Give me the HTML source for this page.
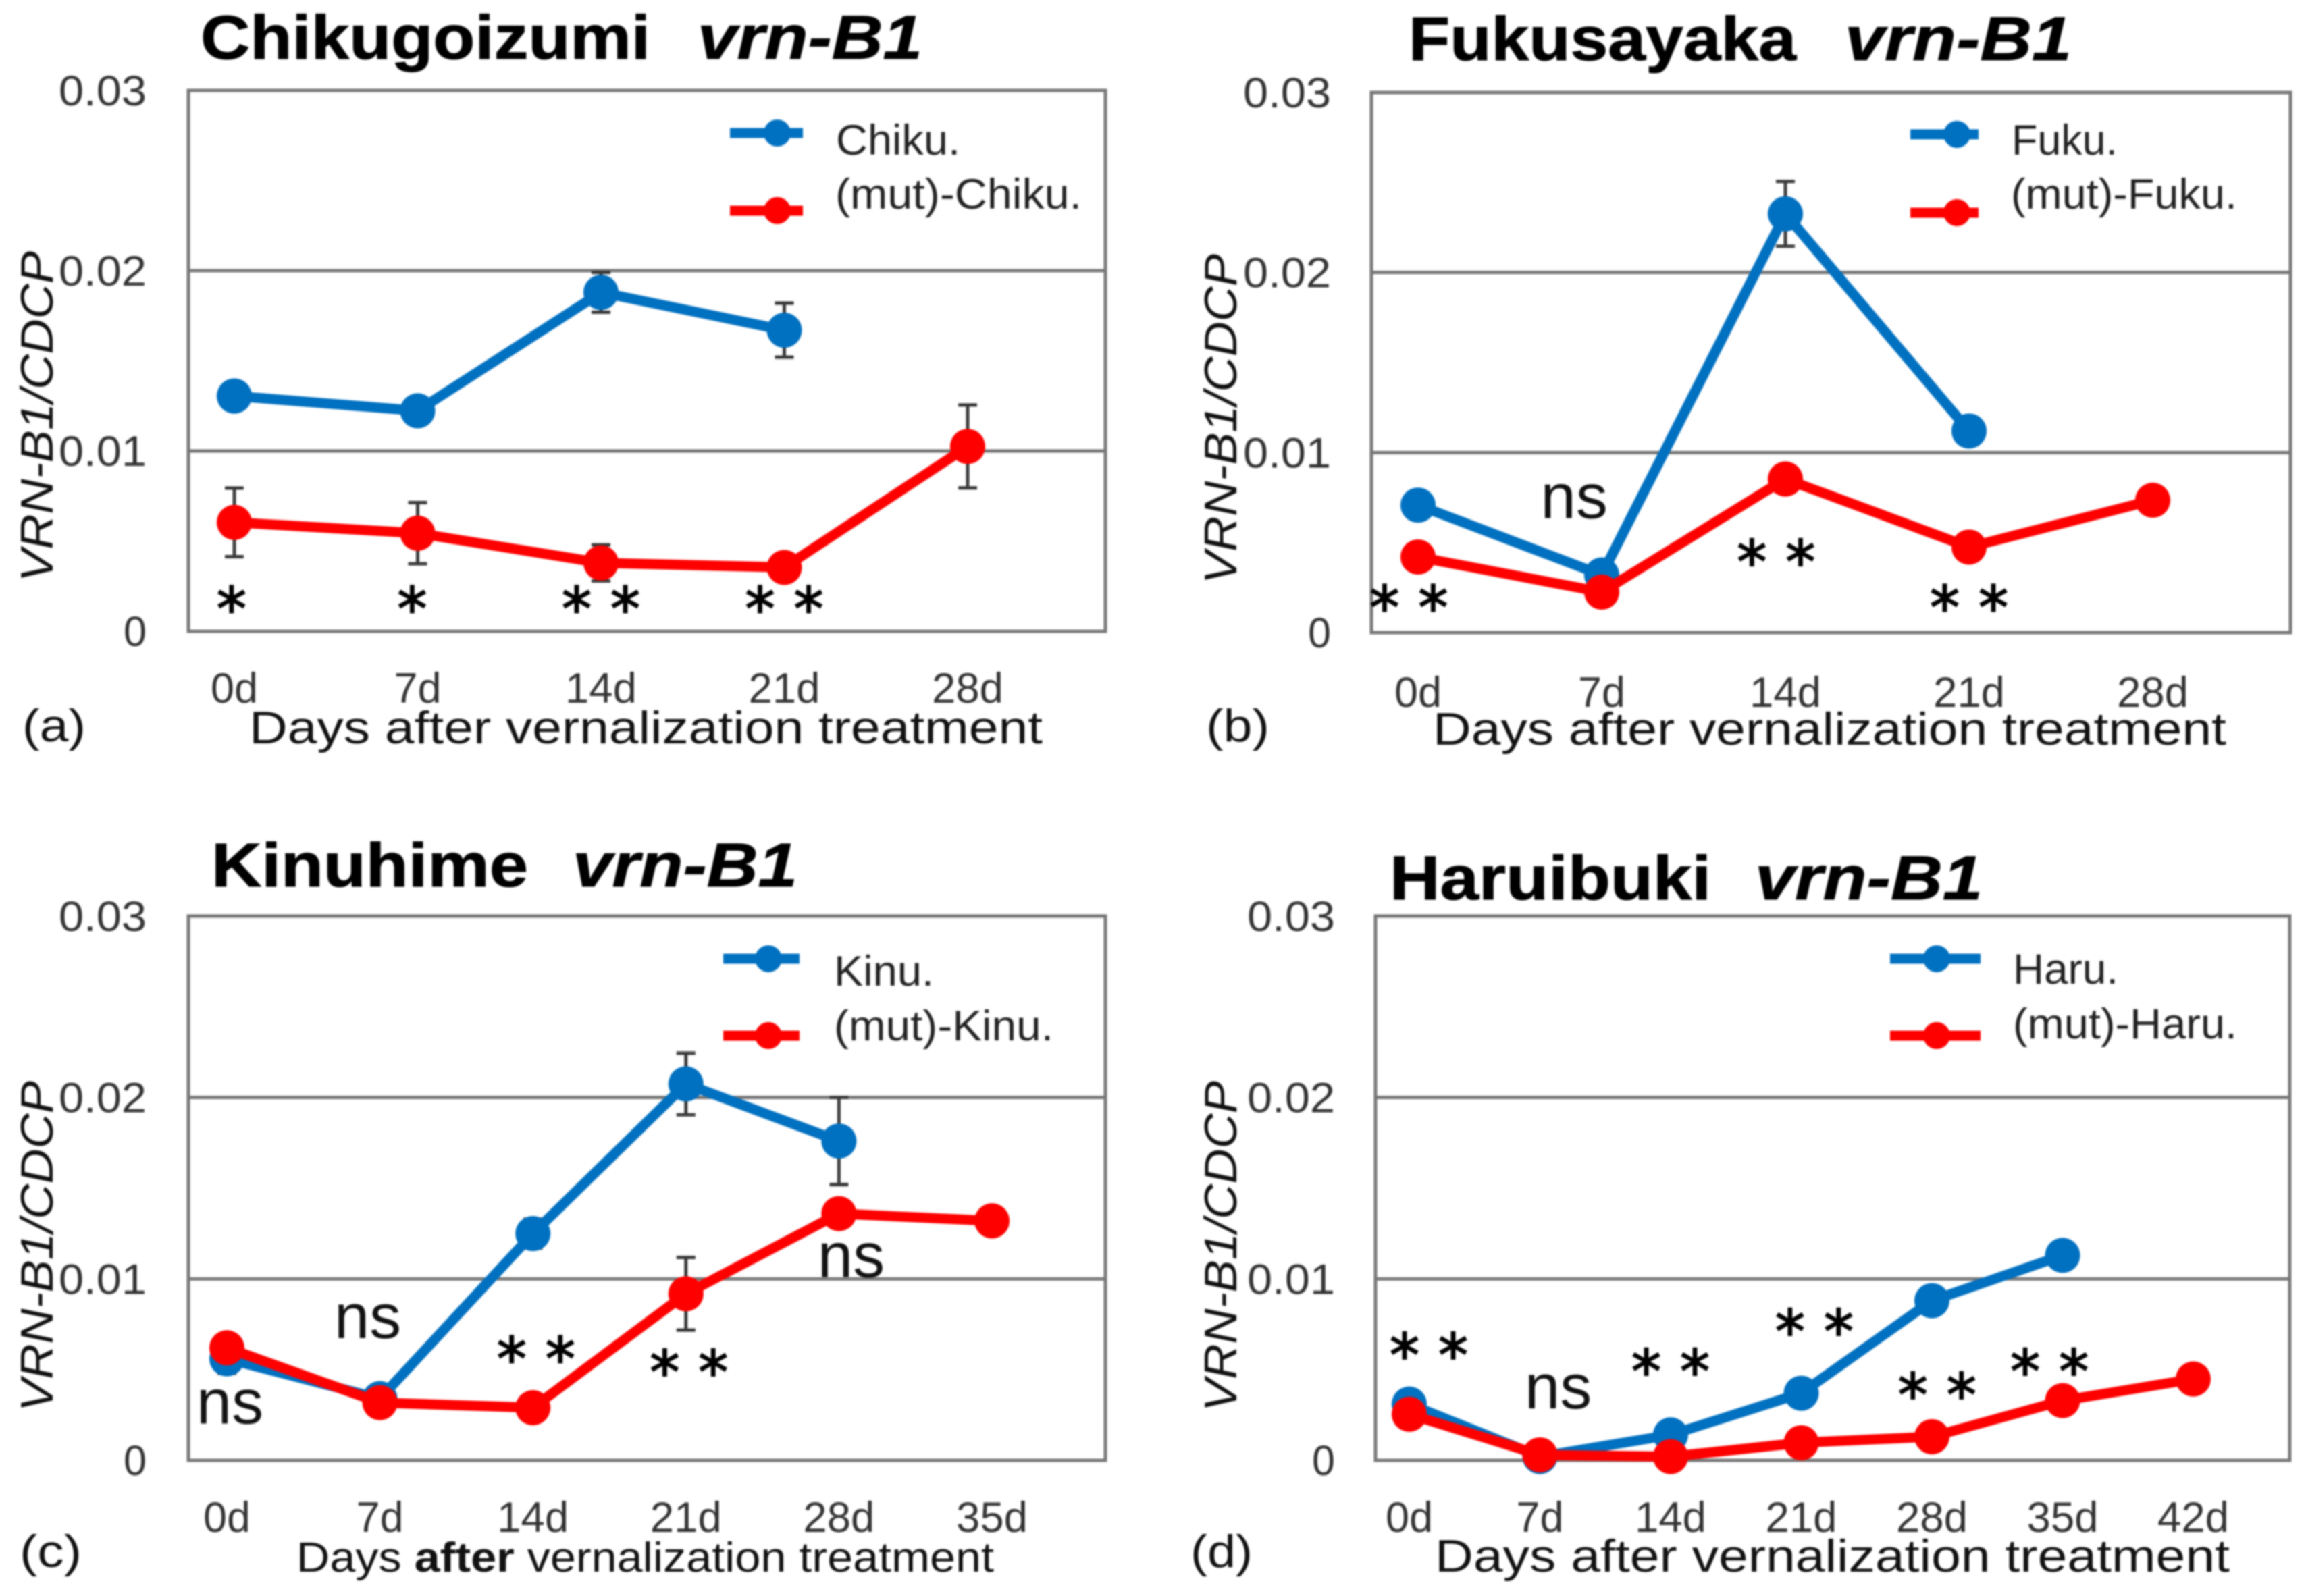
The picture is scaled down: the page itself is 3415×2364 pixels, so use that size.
<!DOCTYPE html>
<html lang="en">
<head>
<meta charset="utf-8">
<title>vrn-B1 expression after vernalization treatment</title>
<style>
  html, body { margin: 0; padding: 0; background: #fff; }
  #figure { display: block; width: 3415px; height: 2364px; filter: blur(1.4px); }
  text { font-family: "Liberation Sans", sans-serif; fill: #1a1a1a; }
  .title { font-size: 92px; font-weight: 700; fill: #000; stroke: #000; stroke-width: 1px; }
  .gene { font-size: 92px; font-weight: 700; font-style: italic; fill: #000; stroke: #000; stroke-width: 1px; }
  .xtitle { font-size: 68px; fill: #111; }
  .ytitle { font-size: 68px; font-style: italic; fill: #111; }
  .legend { font-size: 63px; fill: #222; }
  .panel-tag { font-size: 68px; fill: #111; }
  .tick { font-size: 63px; fill: #333; }
  .note-star { font-family: "DejaVu Sans", sans-serif; font-size: 88px; fill: #000; stroke: #000; stroke-width: 2px; }
  .note-ns { font-size: 94px; fill: #111; }
</style>
</head>
<body>
<svg id="figure" xmlns="http://www.w3.org/2000/svg" width="3415" height="2364" viewBox="0 0 3415 2364">
  <rect x="0" y="0" width="3415" height="2364" fill="#fff"/>

  <g id="panel-a">
    <text class="title" x="297" y="87" textLength="666" lengthAdjust="spacingAndGlyphs">Chikugoizumi</text>
    <text class="gene" x="1033" y="87" textLength="333" lengthAdjust="spacingAndGlyphs">vrn-B1</text>
    <text class="ytitle" transform="translate(78 862) rotate(-90)" textLength="490" lengthAdjust="spacingAndGlyphs">VRN-B1/CDCP</text>
    <text class="xtitle" x="369" y="1101" textLength="1175" lengthAdjust="spacingAndGlyphs">Days after vernalization treatment</text>
    <text class="panel-tag" x="33" y="1098" textLength="94" lengthAdjust="spacingAndGlyphs">(a)</text>
  </g>
  <g id="panel-b">
    <text class="title" x="2086" y="89" textLength="574" lengthAdjust="spacingAndGlyphs">Fukusayaka</text>
    <text class="gene" x="2732" y="89" textLength="336" lengthAdjust="spacingAndGlyphs">vrn-B1</text>
    <text class="ytitle" transform="translate(1831 865) rotate(-90)" textLength="489" lengthAdjust="spacingAndGlyphs">VRN-B1/CDCP</text>
    <text class="xtitle" x="2122" y="1103" textLength="1175" lengthAdjust="spacingAndGlyphs">Days after vernalization treatment</text>
    <text class="panel-tag" x="1786" y="1098" textLength="94" lengthAdjust="spacingAndGlyphs">(b)</text>
  </g>
  <g id="panel-c">
    <text class="title" x="313" y="1313" textLength="469" lengthAdjust="spacingAndGlyphs">Kinuhime</text>
    <text class="gene" x="848" y="1313" textLength="333" lengthAdjust="spacingAndGlyphs">vrn-B1</text>
    <text class="ytitle" transform="translate(78 2091) rotate(-90)" textLength="490" lengthAdjust="spacingAndGlyphs">VRN-B1/CDCP</text>
    <text class="xtitle" x="439" y="2328" textLength="1033" lengthAdjust="spacingAndGlyphs" style="font-size:62px">Days <tspan font-weight="700">after</tspan> vernalization treatment</text>
    <text class="panel-tag" x="29" y="2321" textLength="92" lengthAdjust="spacingAndGlyphs">(c)</text>
  </g>
  <g id="panel-d">
    <text class="title" x="2058" y="1332" textLength="476" lengthAdjust="spacingAndGlyphs">Haruibuki</text>
    <text class="gene" x="2599" y="1332" textLength="337" lengthAdjust="spacingAndGlyphs">vrn-B1</text>
    <text class="ytitle" transform="translate(1831 2091) rotate(-90)" textLength="490" lengthAdjust="spacingAndGlyphs">VRN-B1/CDCP</text>
    <text class="xtitle" x="2125" y="2328" textLength="1177" lengthAdjust="spacingAndGlyphs">Days after vernalization treatment</text>
    <text class="panel-tag" x="1763" y="2321" textLength="92" lengthAdjust="spacingAndGlyphs">(d)</text>
  </g>

  <g id="legends">
    <g>
      <line x1="1081" x2="1189" y1="197" y2="197" stroke="#0070C0" stroke-width="15"/>
      <circle cx="1151" cy="197" r="20" fill="#0070C0"/>
      <text class="legend" x="1238" y="229" textLength="184" lengthAdjust="spacingAndGlyphs">Chiku.</text>
      <line x1="1081" x2="1189" y1="312" y2="312" stroke="#FF0000" stroke-width="15"/>
      <circle cx="1151" cy="312" r="20" fill="#FF0000"/>
      <text class="legend" x="1237" y="309" textLength="365" lengthAdjust="spacingAndGlyphs">(mut)-Chiku.</text>
    </g>
    <g>
      <line x1="2829" x2="2930" y1="199" y2="199" stroke="#0070C0" stroke-width="15"/>
      <circle cx="2898" cy="199" r="20" fill="#0070C0"/>
      <text class="legend" x="2979" y="229" textLength="157" lengthAdjust="spacingAndGlyphs">Fuku.</text>
      <line x1="2829" x2="2930" y1="315" y2="315" stroke="#FF0000" stroke-width="15"/>
      <circle cx="2898" cy="315" r="20" fill="#FF0000"/>
      <text class="legend" x="2978" y="309" textLength="335" lengthAdjust="spacingAndGlyphs">(mut)-Fuku.</text>
    </g>
    <g>
      <line x1="1071" x2="1184" y1="1420" y2="1420" stroke="#0070C0" stroke-width="15"/>
      <circle cx="1138" cy="1420" r="20" fill="#0070C0"/>
      <text class="legend" x="1235" y="1460" textLength="148" lengthAdjust="spacingAndGlyphs">Kinu.</text>
      <line x1="1071" x2="1184" y1="1534" y2="1534" stroke="#FF0000" stroke-width="15"/>
      <circle cx="1138" cy="1534" r="20" fill="#FF0000"/>
      <text class="legend" x="1235" y="1541" textLength="325" lengthAdjust="spacingAndGlyphs">(mut)-Kinu.</text>
    </g>
    <g>
      <line x1="2799" x2="2933" y1="1420" y2="1420" stroke="#0070C0" stroke-width="15"/>
      <circle cx="2868" cy="1420" r="20" fill="#0070C0"/>
      <text class="legend" x="2981" y="1457" textLength="156" lengthAdjust="spacingAndGlyphs">Haru.</text>
      <line x1="2799" x2="2933" y1="1534" y2="1534" stroke="#FF0000" stroke-width="15"/>
      <circle cx="2868" cy="1534" r="20" fill="#FF0000"/>
      <text class="legend" x="2981" y="1538" textLength="332" lengthAdjust="spacingAndGlyphs">(mut)-Haru.</text>
    </g>
  </g>
</svg>

<script>
// Shared y axis
const yTickValues = [0, 0.01, 0.02, 0.03];
const yTickLabels = ['0', '0.01', '0.02', '0.03'];
const yAxisMax = 0.03;

// Panel (a) Chikugoizumi
const chikuDays = ['0d', '7d', '14d', '21d', '28d'];
const chikuWild = [0.01305, 0.01223, 0.0188, 0.0167];
const chikuMut = [0.00604, 0.00544, 0.00379, 0.00354, 0.01025];
const chikuWildErr = [0, 0, 0.0011, 0.0015];
const chikuMutErr = [0.0019, 0.0017, 0.001, 0, 0.0023];
const chikuNotes = ['*', '*', '* *', '* *'];
const chikuNoteDays = [-0.015, 0.97, 2, 3];
const chikuNoteLevels = [0.00173, 0.00173, 0.00173, 0.00173];

// Panel (b) Fukusayaka
const fukuDays = ['0d', '7d', '14d', '21d', '28d'];
const fukuWild = [0.00708, 0.0032, 0.02326, 0.0112];
const fukuMut = [0.0042, 0.00225, 0.00853, 0.00475, 0.00735];
const fukuWildErr = [0, 0, 0.0018, 0];
const fukuMutErr = [0, 0, 0, 0, 0];
const fukuNotes = ['* *', 'ns', '* *', '* *'];
const fukuNoteDays = [-0.05, 0.85, 1.95, 3];
const fukuNoteLevels = [0.00187, 0.0073, 0.0044, 0.00187];

// Panel (c) Kinuhime
const kinuDays = ['0d', '7d', '14d', '21d', '28d', '35d'];
const kinuWild = [0.0056, 0.0034, 0.0125, 0.02075, 0.0176];
const kinuMut = [0.0062, 0.00318, 0.0029, 0.00918, 0.0136, 0.0132];
const kinuWildErr = [0.0008, 0, 0.0008, 0.0017, 0.0024];
const kinuMutErr = [0, 0, 0, 0.002, 0, 0];
const kinuNotes = ['ns', 'ns', '* *', '* *', 'ns'];
const kinuNoteDays = [0.02, 0.92, 2.02, 3.02, 4.08];
const kinuNoteLevels = [0.00296, 0.00766, 0.00606, 0.00534, 0.01104];

// Panel (d) Haruibuki
const haruDays = ['0d', '7d', '14d', '21d', '28d', '35d', '42d'];
const haruWild = [0.0031, 0.0002, 0.0014, 0.0037, 0.0088, 0.0113];
const haruMut = [0.00254, 0.0003, 0.0002, 0.00097, 0.0013, 0.00329, 0.00448];
const haruWildErr = [0, 0, 0, 0, 0, 0];
const haruMutErr = [0, 0, 0, 0, 0, 0, 0];
const haruNotes = ['* *', 'ns', '* *', '* *', '* *', '* *'];
const haruNoteDays = [0.15, 1.14, 2, 3.1, 4.04, 4.9];
const haruNoteLevels = [0.00628, 0.0038, 0.00537, 0.00758, 0.00407, 0.00537];

const SVG_NS = 'http://www.w3.org/2000/svg';
const BLUE = '#0070C0';
const RED = '#FF0000';

function make(tag, parent, attrs) {
  const el = document.createElementNS(SVG_NS, tag);
  for (const k in attrs) el.setAttribute(k, attrs[k]);
  parent.appendChild(el);
  return el;
}

function drawFrame(group, box, yScale) {
  yTickValues.forEach(function (v, i) {
    if (v > 0 && v < yAxisMax) {
      const grid = make('line', group, { x1: box.left, x2: box.right, y1: yScale(v), y2: yScale(v), stroke: '#777777', 'stroke-width': 5 });
      
      
    }
    const label = yTickLabels[i];
    const tick = make('text', group, { x: box.tickRight, y: yScale(v) + 22, 'text-anchor': 'end', class: 'tick', textLength: label.length === 1 ? 34 : 130, lengthAdjust: 'spacingAndGlyphs' });
    tick.textContent = label;
    
    
  });
  const frame = make('rect', group, { x: box.left, y: box.top, width: box.right - box.left, height: box.bottom - box.top, fill: 'none', stroke: '#777777', 'stroke-width': 5 });
  
  
}

function drawXTicks(group, box, days, xScale) {
  days.forEach(function (day, i) {
    const tick = make('text', group, { x: xScale(i), y: box.tickBase + 2, 'text-anchor': 'middle', class: 'tick', textLength: day.length === 2 ? 70 : 106, lengthAdjust: 'spacingAndGlyphs' });
    tick.textContent = day;
    
    
  });
}

function drawErrors(group, values, errors, xScale, yScale) {
  values.forEach(function (v, i) {
    const e = errors[i];
    if (!e) return;
    const x = xScale(i);
    const bar = make('path', group, {
      d: 'M' + (x - 14) + ' ' + yScale(v + e) + 'H' + (x + 14) + 'M' + x + ' ' + yScale(v + e) + 'V' + yScale(v - e) + 'M' + (x - 14) + ' ' + yScale(v - e) + 'H' + (x + 14),
      fill: 'none', stroke: '#3a3a3a', 'stroke-width': 5
    });
    
    
  });
}

function drawSeries(group, values, color, name, xScale, yScale) {
  const points = values.map(function (v, i) { return xScale(i) + ',' + yScale(v); }).join(' ');
  const line = make('polyline', group, { points: points, fill: 'none', stroke: color, 'stroke-width': 15, 'stroke-linejoin': 'round' });
  
  
  values.forEach(function (v, i) {
    const dot = make('circle', group, { cx: xScale(i), cy: yScale(v), r: 26, fill: color });
    
    
  });
}

function drawNotes(group, notes, days, levels, xScale, yScale) {
  notes.forEach(function (note, i) {
    const isStar = note.indexOf('*') >= 0;
    const note_el = make('text', group, { x: xScale(days[i]), y: yScale(levels[i]) + (isStar ? 44 : 25), 'text-anchor': 'middle', class: isStar ? 'note-star' : 'note-ns', 'xml:space': 'preserve' });
    note_el.textContent = note;
    
    
  });
}

function drawPanel(id, box, d) {
  const group = document.getElementById(id);
  const xScale = function (i) { return box.first + i * box.step; };
  const yScale = function (v) { return box.bottom - (v / yAxisMax) * (box.bottom - box.top); };
  drawFrame(group, box, yScale);
  drawXTicks(group, box, d.days, xScale);
  drawErrors(group, d.wild, d.wildErr, xScale, yScale);
  drawErrors(group, d.mut, d.mutErr, xScale, yScale);
  drawSeries(group, d.wild, BLUE, 'wild-type-series', xScale, yScale);
  drawSeries(group, d.mut, RED, 'mutant-series', xScale, yScale);
  drawNotes(group, d.notes, d.noteDays, d.noteLevels, xScale, yScale);
}

drawPanel('panel-a',
  { left: 279, right: 1637, top: 134, bottom: 935, first: 347, step: 271.5, tickRight: 217, tickBase: 1039 },
  { days: chikuDays, wild: chikuWild, mut: chikuMut, wildErr: chikuWildErr, mutErr: chikuMutErr, notes: chikuNotes, noteDays: chikuNoteDays, noteLevels: chikuNoteLevels });
drawPanel('panel-b',
  { left: 2031, right: 3392, top: 137, bottom: 937, first: 2100, step: 272, tickRight: 1971, tickBase: 1045 },
  { days: fukuDays, wild: fukuWild, mut: fukuMut, wildErr: fukuWildErr, mutErr: fukuMutErr, notes: fukuNotes, noteDays: fukuNoteDays, noteLevels: fukuNoteLevels });
drawPanel('panel-c',
  { left: 279, right: 1637, top: 1357, bottom: 2163, first: 336, step: 226.6, tickRight: 217, tickBase: 2267 },
  { days: kinuDays, wild: kinuWild, mut: kinuMut, wildErr: kinuWildErr, mutErr: kinuMutErr, notes: kinuNotes, noteDays: kinuNoteDays, noteLevels: kinuNoteLevels });
drawPanel('panel-d',
  { left: 2037, right: 3391, top: 1357, bottom: 2163, first: 2087, step: 193.5, tickRight: 1977, tickBase: 2267 },
  { days: haruDays, wild: haruWild, mut: haruMut, wildErr: haruWildErr, mutErr: haruMutErr, notes: haruNotes, noteDays: haruNoteDays, noteLevels: haruNoteLevels });

// Keep the legends above the plot frames
const svgRoot = document.getElementById('figure');
svgRoot.appendChild(document.getElementById('legends'));
</script>
</body>
</html>
